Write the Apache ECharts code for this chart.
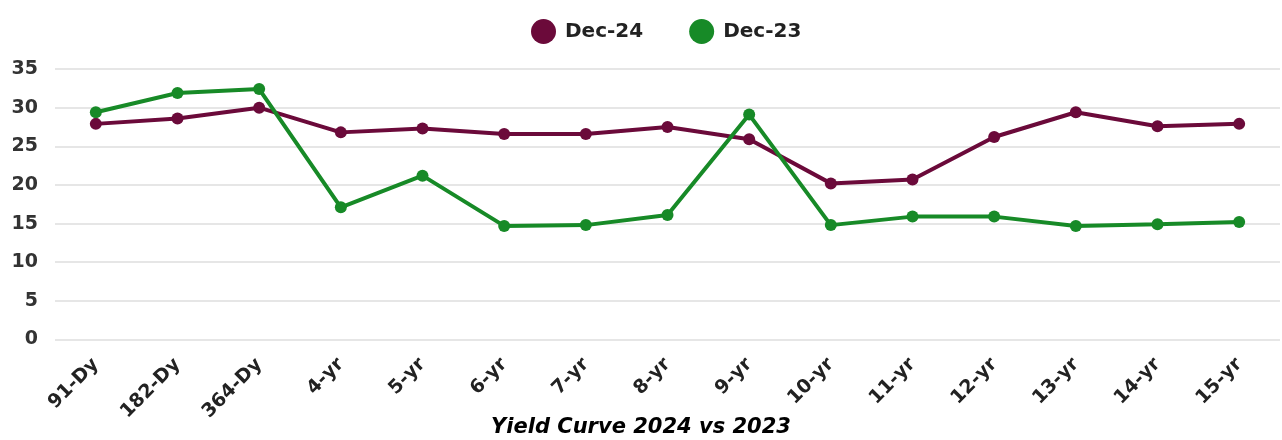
<!DOCTYPE html>
<html>
<head>
<meta charset="utf-8">
<script src="https://cdn.jsdelivr.net/npm/echarts@6/dist/echarts.min.js"></script>
<style>
  html, body { margin: 0; padding: 0; background: #ffffff; }
  #chart { width: 1282px; height: 440px; }
</style>
</head>
<body>
<div id="chart"></div>
<script>
// Tenors along the curve
const tenors = ['91-Dy', '182-Dy', '364-Dy', '4-yr', '5-yr', '6-yr', '7-yr', '8-yr',
                '9-yr', '10-yr', '11-yr', '12-yr', '13-yr', '14-yr', '15-yr'];

// Yields (%) at each tenor
const dec24 = [27.9, 28.6, 30.0, 26.8, 27.3, 26.6, 26.6, 27.5, 25.9, 20.2, 20.7, 26.2, 29.4, 27.6, 27.9];
const dec23 = [29.4, 31.9, 32.4, 17.1, 21.2, 14.7, 14.8, 16.1, 29.1, 14.8, 15.9, 15.9, 14.7, 14.9, 15.2];

// Y-axis ticks
const yTicks = [0, 5, 10, 15, 20, 25, 30, 35];

const maroon = '#6b0a3a';
const green = '#178a27';
const font = '"DejaVu Sans", sans-serif';

const chart = echarts.init(document.getElementById('chart'), null, { renderer: 'canvas' });

chart.setOption({
  animation: false,
  backgroundColor: '#ffffff',
  title: {
    text: 'Yield Curve 2024 vs 2023',
    left: 'center',
    bottom: -3,
    textStyle: {
      fontFamily: font,
      fontSize: 21,
      fontWeight: 'bold',
      fontStyle: 'italic',
      color: '#000000'
    }
  },
  legend: {
    top: 14,
    left: 526,
    itemGap: 46,
    itemWidth: 25,
    itemHeight: 25,
    icon: 'circle',
    textStyle: { fontFamily: font, fontSize: 20, fontWeight: 'bold', color: '#222222', padding: [0, 0, 0, 4] },
    data: ['Dec-24', 'Dec-23']
  },
  grid: { left: 55, right: 2, top: 69, bottom: 100.5, containLabel: false },
  xAxis: {
    type: 'category',
    data: tenors,
    boundaryGap: true,
    axisLine: { show: false },
    axisTick: { show: false },
    axisLabel: {
      rotate: 45,
      margin: 22,
      fontFamily: font,
      fontSize: 19,
      fontWeight: 'bold',
      color: '#222222'
    }
  },
  yAxis: {
    type: 'value',
    min: yTicks[0],
    max: yTicks[yTicks.length - 1],
    interval: 5,
    axisLine: { show: false },
    axisTick: { show: false },
    splitLine: { lineStyle: { color: '#e6e6e6', width: 2 } },
    axisLabel: {
      margin: 17,
      fontFamily: font,
      fontSize: 19,
      fontWeight: 'bold',
      color: '#333333'
    }
  },
  series: [
    {
      name: 'Dec-24',
      type: 'line',
      data: dec24,
      symbol: 'circle',
      symbolSize: 12,
      itemStyle: { color: maroon },
      lineStyle: { color: maroon, width: 4 }
    },
    {
      name: 'Dec-23',
      type: 'line',
      data: dec23,
      symbol: 'circle',
      symbolSize: 12,
      itemStyle: { color: green },
      lineStyle: { color: green, width: 4 }
    }
  ]
});
</script>
</body>
</html>
